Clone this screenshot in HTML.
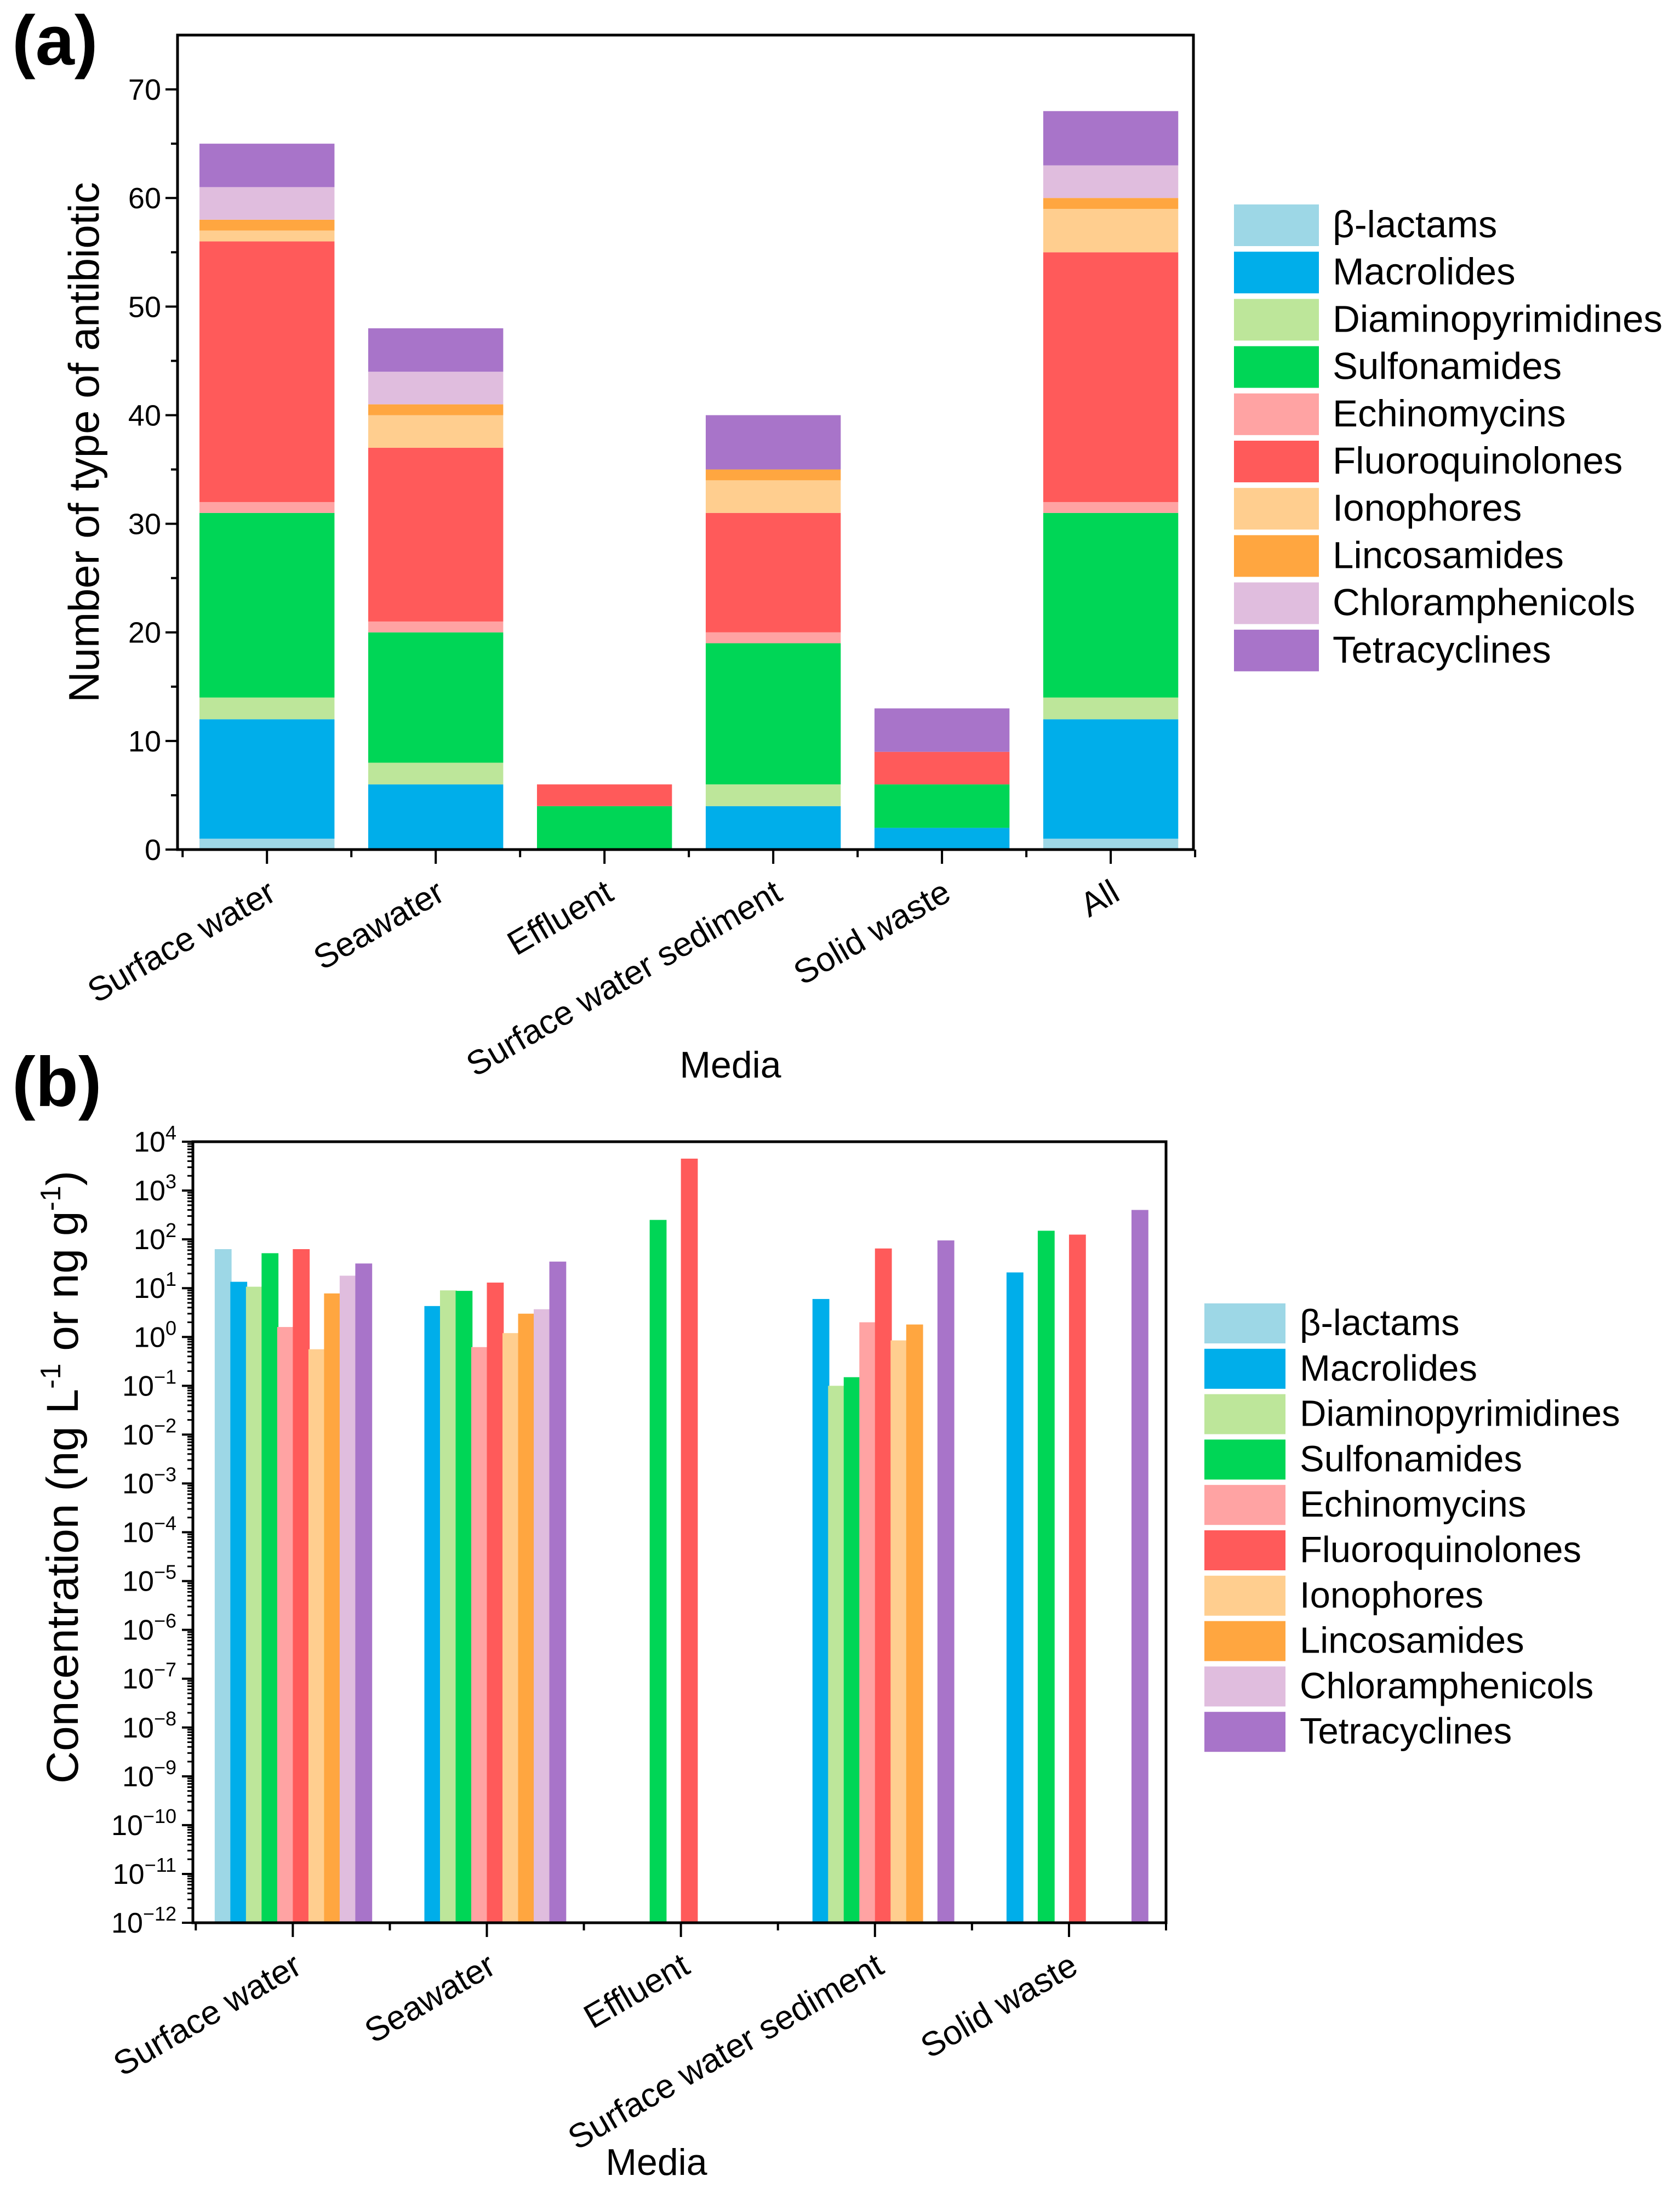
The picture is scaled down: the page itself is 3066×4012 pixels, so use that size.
<!DOCTYPE html>
<html><head><meta charset="utf-8"><style>
html,body{margin:0;padding:0;background:#fff}
svg{display:block;font-family:"Liberation Sans",Arial,sans-serif}
</style></head><body>
<svg id="chart" width="3066" height="4012" viewBox="0 0 3066 4012" xmlns="http://www.w3.org/2000/svg"></svg>
<script>
const seriesNames = ["β-lactams","Macrolides","Diaminopyrimidines","Sulfonamides","Echinomycins","Fluoroquinolones","Ionophores","Lincosamides","Chloramphenicols","Tetracyclines"];
const seriesColors = ["#9dd7e6","#00aeea","#bde69a","#00d656","#ffa3a3","#ff5a5a","#ffce8f","#ffa640","#e0bdde","#a874c9"];
const catsA = ["Surface water","Seawater","Effluent","Surface water sediment","Solid waste","All"];
// counts per category, series order as seriesNames
const countsSurface = [1,11,2,17,1,24,1,1,3,4];
const countsSeawater = [0,6,2,12,1,16,3,1,3,4];
const countsEffluent = [0,0,0,4,0,2,0,0,0,0];
const countsSediment = [0,4,2,13,1,11,3,1,0,5];
const countsSolid = [0,2,0,4,0,3,0,0,0,4];
const countsAll = [1,11,2,17,1,23,4,1,3,5];
const yTicksA = [0,10,20,30,40,50,60,70];
const catsB = ["Surface water","Seawater","Effluent","Surface water sediment","Solid waste"];
// concentrations (null = no data)
const concSurface = [63,13.5,10.7,52,1.6,63,0.56,7.8,18,32];
const concSeawater = [null,4.3,9,8.8,0.62,13,1.2,3,3.7,35];
const concEffluent = [null,null,null,250,null,4500,null,null,null,null];
const concSediment = [null,6,0.1,0.15,2,65,0.85,1.8,null,95];
const concSolid = [null,21,null,150,null,125,null,null,null,400];
const logTicksB = [-12,-11,-10,-9,-8,-7,-6,-5,-4,-3,-2,-1,0,1,2,3,4];

const NS="http://www.w3.org/2000/svg";
const svg=document.getElementById('chart');
function mk(tag,attrs,parent,text){const e=document.createElementNS(NS,tag);for(const k in attrs)e.setAttribute(k,attrs[k]);if(text!==undefined)e.textContent=text;(parent||svg).appendChild(e);return e;}

/* ---------- Panel A ---------- */
const A={l:324,r:2178,t:64,b:1550,ymax:75,x0:-0.53,x1:5.49};
const yA=v=>A.b-(v/A.ymax)*(A.b-A.t);
const xA=i=>A.l+(i-A.x0)/(A.x1-A.x0)*(A.r-A.l);
const gA=mk('g',{});


const lab=mk('text',{x:22,y:118,'font-size':128,'font-weight':'bold'},gA,'(a)');

const countsA=[countsSurface,countsSeawater,countsEffluent,countsSediment,countsSolid,countsAll];
const bwA=(xA(1)-xA(0))*0.8;
countsA.forEach((arr,ci)=>{let cum=0;arr.forEach((v,si)=>{if(v>0){const r=mk('rect',{x:xA(ci)-bwA/2,y:yA(cum+v),width:bwA,height:yA(cum)-yA(cum+v),fill:seriesColors[si]},gA);

}cum+=v;});});
mk('rect',{x:A.l,y:A.t,width:A.r-A.l,height:A.b-A.t,fill:'none',stroke:'#000','stroke-width':5},gA);
yTicksA.forEach(v=>{mk('line',{x1:A.l-22,x2:A.l,y1:yA(v),y2:yA(v),stroke:'#000','stroke-width':4},gA);
const t=mk('text',{x:A.l-30,y:yA(v)+19,'font-size':54,'text-anchor':'end'},gA,String(v));

if(v<70)mk('line',{x1:A.l-12,x2:A.l,y1:yA(v+5),y2:yA(v+5),stroke:'#000','stroke-width':4},gA);});
catsA.forEach((c,i)=>{mk('line',{x1:xA(i),x2:xA(i),y1:A.b,y2:A.b+26,stroke:'#000','stroke-width':4},gA);
mk('line',{x1:xA(i-0.5),x2:xA(i-0.5),y1:A.b,y2:A.b+14,stroke:'#000','stroke-width':4},gA);
const t=mk('text',{x:0,y:0,'font-size':62,'text-anchor':'end',transform:`translate(${xA(i)+20},${A.b+90}) rotate(-30)`},gA,c);
});
mk('line',{x1:xA(5.5),x2:xA(5.5),y1:A.b,y2:A.b+14,stroke:'#000','stroke-width':4},gA);
let t1=mk('text',{x:0,y:0,'font-size':78,'text-anchor':'middle',transform:`translate(180,807) rotate(-90)`},gA,'Number of type of antibiotic');

let t2=mk('text',{x:1333,y:1966,'font-size':68,'text-anchor':'middle'},gA,'Media');

const legA=mk('g',{},gA);
seriesNames.forEach((n,i)=>{const y=373+i*86.2;
const r=mk('rect',{x:2252,y:y,width:155,height:76,fill:seriesColors[i]},legA);

const t=mk('text',{x:2432,y:y+60,'font-size':69},legA,n);
});

/* ---------- Panel B ---------- */
const B={l:352,r:2128,t:2083,b:3508,lmin:-12,lmax:4,x0:-0.515,x1:4.5};
const yB=l=>B.b-(l-B.lmin)/(B.lmax-B.lmin)*(B.b-B.t);
const xB=i=>B.l+(i-B.x0)/(B.x1-B.x0)*(B.r-B.l);
const gB=mk('g',{});
const labB=mk('text',{x:22,y:2018,'font-size':128,'font-weight':'bold'},gB,'(b)');

const concB=[concSurface,concSeawater,concEffluent,concSediment,concSolid];
const slot=(xB(1)-xB(0))*0.0805;
concB.forEach((arr,ci)=>{arr.forEach((v,si)=>{if(v===null)return;const x=xB(ci)+(si-4.5)*slot-slot/2;const yy=yB(Math.log10(v));
const r=mk('rect',{x:x,y:yy,width:slot*1.08,height:B.b-yy,fill:seriesColors[si]},gB);

});});
mk('rect',{x:B.l,y:B.t,width:B.r-B.l,height:B.b-B.t,fill:'none',stroke:'#000','stroke-width':5},gB);
logTicksB.forEach(l=>{mk('line',{x1:B.l-20,x2:B.l,y1:yB(l),y2:yB(l),stroke:'#000','stroke-width':4},gB);
const t=mk('text',{x:B.l-30,y:yB(l)+18,'font-size':52,'text-anchor':'end'},gB);

const a=document.createElementNS(NS,'tspan');a.textContent='10';t.appendChild(a);
const s=document.createElementNS(NS,'tspan');s.setAttribute('dy','-22');s.setAttribute('font-size','36');s.textContent=(l<0?'\u2212':'')+Math.abs(l);t.appendChild(s);
if(l<4){for(let k=2;k<10;k++){const ly=yB(l+Math.log10(k));mk('line',{x1:B.l-10,x2:B.l,y1:ly,y2:ly,stroke:'#000','stroke-width':3},gB);}}});
catsB.forEach((c,i)=>{mk('line',{x1:xB(i),x2:xB(i),y1:B.b,y2:B.b+26,stroke:'#000','stroke-width':4},gB);
mk('line',{x1:xB(i-0.5),x2:xB(i-0.5),y1:B.b,y2:B.b+14,stroke:'#000','stroke-width':4},gB);
const t=mk('text',{x:0,y:0,'font-size':62,'text-anchor':'end',transform:`translate(${xB(i)+20},${B.b+90}) rotate(-30)`},gB,c);
});
mk('line',{x1:xB(4.5),x2:xB(4.5),y1:B.b,y2:B.b+14,stroke:'#000','stroke-width':4},gB);
const yt=mk('text',{x:0,y:0,'font-size':82,'text-anchor':'middle',transform:`translate(142,2695) rotate(-90)`},gB);

[['Concentration (ng L',0,82],['-1',-32,52],[' or ng g',32,82],['-1',-32,52],[')',32,82]].forEach(p=>{const s=document.createElementNS(NS,'tspan');s.setAttribute('dy',p[1]);s.setAttribute('font-size',p[2]);s.textContent=p[0];yt.appendChild(s);});
let t3=mk('text',{x:1198,y:3968,'font-size':68,'text-anchor':'middle'},gB,'Media');

const legB=mk('g',{},gB);
seriesNames.forEach((n,i)=>{const y=2378+i*82.8;
const r=mk('rect',{x:2198,y:y,width:148,height:73,fill:seriesColors[i]},legB);

const t=mk('text',{x:2372,y:y+58,'font-size':67},legB,n);
});
</script>
</body></html>
